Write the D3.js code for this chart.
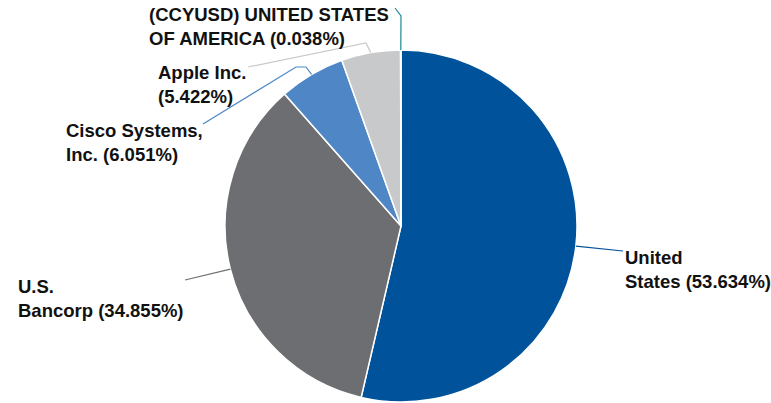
<!DOCTYPE html>
<html>
<head>
<meta charset="utf-8">
<script src="https://cdn.jsdelivr.net/npm/d3@7"></script>
<style>
  body { margin: 0; background: #fff; }
  text { font-family: "Liberation Sans", Arial, sans-serif; font-weight: bold; font-size: 18.5px; fill: #111; }
</style>
</head>
<body>
<div id="plot"></div>
<script>
// slice data, clockwise from 12 o'clock
const names = ["United States", "U.S. Bancorp", "Cisco Systems, Inc.", "Apple Inc.", "(CCYUSD) UNITED STATES OF AMERICA"];
const shares = [53.634, 34.855, 6.051, 5.422, 0.038];
const colors = ["#00539b", "#6d6e71", "#4f87c6", "#c8c9cb", "#198a91"];

// how each label wraps
const labelLines = [
  ["United", "States (53.634%)"],
  ["U.S.", "Bancorp (34.855%)"],
  ["Cisco Systems,", "Inc. (6.051%)"],
  ["Apple Inc.", "(5.422%)"],
  ["(CCYUSD) UNITED STATES", "OF AMERICA (0.038%)"]
];

const width = 771, height = 403;
const cx = 401, cy = 226, r = 176;

// label placement + leader bend points (label side first)
const labelPos = [
  {x: 625, y: 264, leader: [[623, 251]]},
  {x: 18, y: 293, leader: [[185, 280]]},
  {x: 66, y: 137, leader: [[203, 124], [296, 67], [306, 67]]},
  {x: 158, y: 79, leader: [[248, 67], [366, 43]]},
  {x: 149, y: 21, leader: [[395, 8], [401, 16]]}
];

const svg = d3.select("#plot").append("svg")
  .attr("width", width)
  .attr("height", height);

const g = svg.append("g").attr("transform", `translate(${cx},${cy})`);

const pie = d3.pie().sort(null).value(d => d);
const arcs = pie(shares);
const arc = d3.arc().innerRadius(0).outerRadius(r);

g.selectAll("path.slice")
  .data(arcs)
  .join("path")
  .attr("class", "slice")
  .attr("d", arc)
  .attr("fill", (d, i) => colors[i])
  .attr("stroke", "#fff")
  .attr("stroke-width", 1.5);

// leader lines
arcs.forEach((d, i) => {
  const mid = (d.startAngle + d.endAngle) / 2;
  const edge = [cx + r * Math.sin(mid), cy - r * Math.cos(mid)];
  const pts = labelPos[i].leader.concat([edge]);
  svg.append("path")
    .attr("d", d3.line()(pts))
    .attr("fill", "none")
    .attr("stroke", colors[i])
    .attr("stroke-width", 1.2);
});

// labels
labelLines.forEach((lines, i) => {
  const t = svg.append("text")
    .attr("x", labelPos[i].x)
    .attr("y", labelPos[i].y);
  lines.forEach((ln, k) => {
    t.append("tspan")
      .attr("x", labelPos[i].x)
      .attr("dy", k === 0 ? 0 : 23.5)
      .text(ln);
  });
});
</script>
</body>
</html>
